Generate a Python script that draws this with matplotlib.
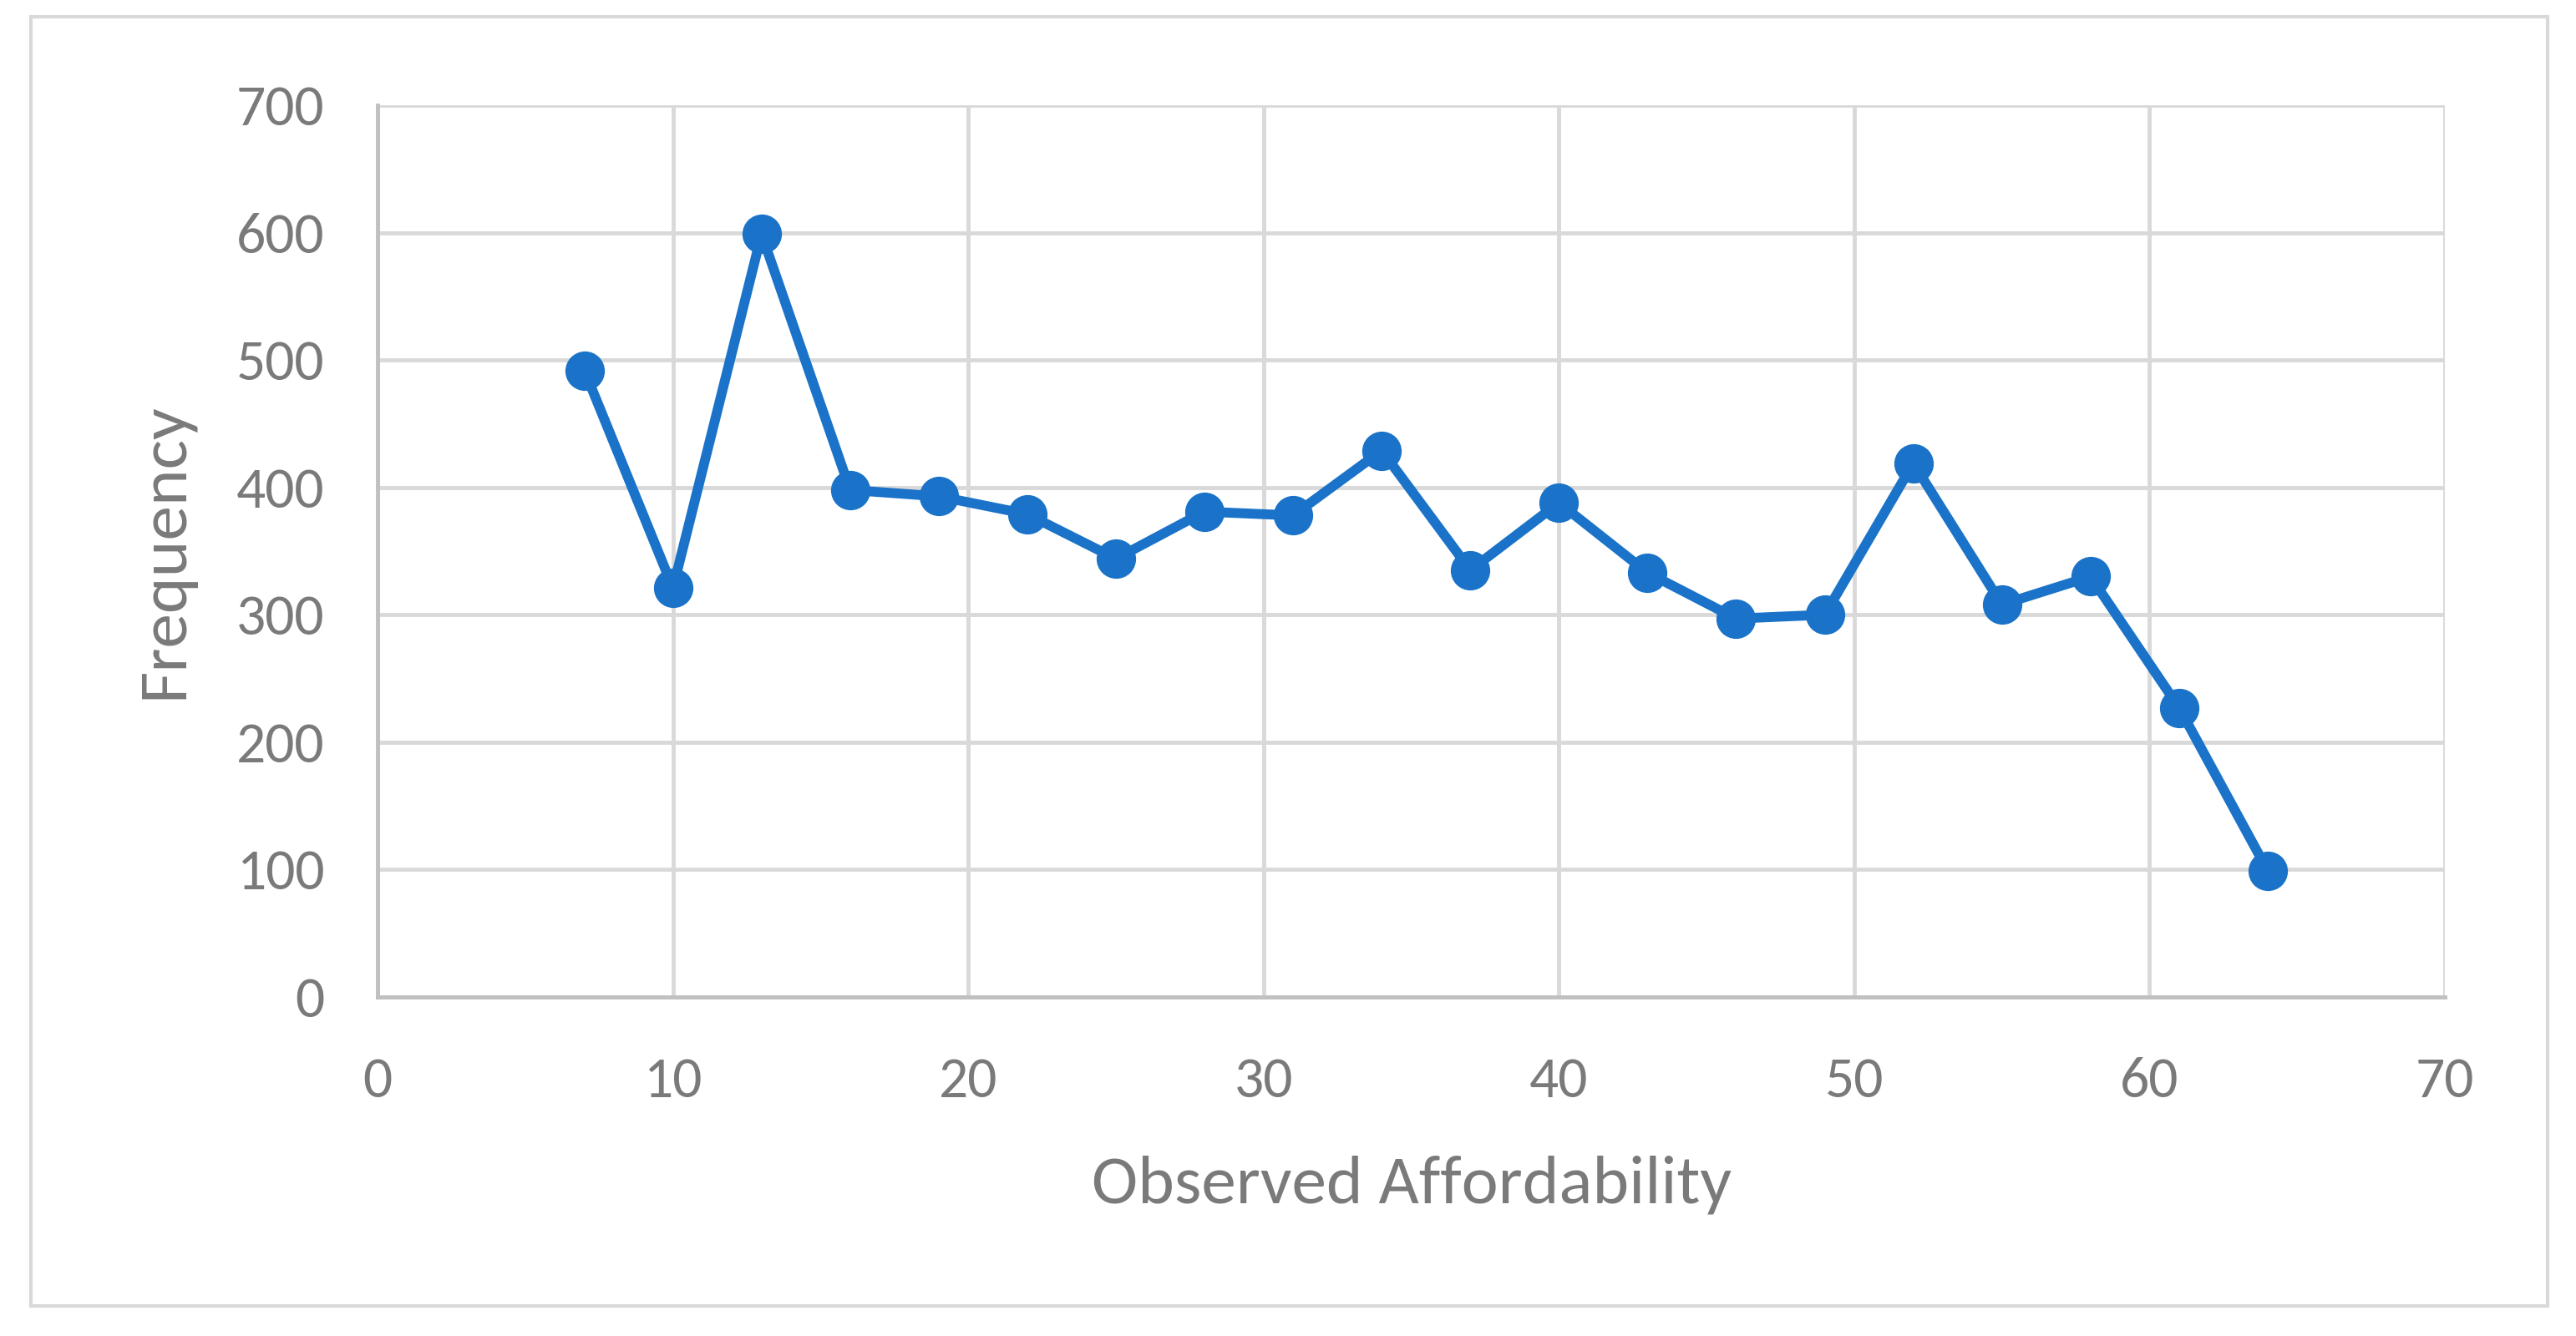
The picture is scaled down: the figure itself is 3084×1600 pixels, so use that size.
import matplotlib
matplotlib.use("Agg")
import matplotlib.pyplot as plt
from matplotlib.patches import Rectangle

plt.rcParams["font.family"] = ["Carlito", "Lato", "DejaVu Sans"]

affordability = [7, 10, 13, 16, 19, 22, 25, 28, 31, 34, 37, 40, 43, 46, 49, 52, 55, 58, 61, 64]
frequency = [492, 321, 599, 398, 393, 379, 344, 381, 378, 429, 335, 388, 333, 297, 300, 419, 308, 330, 227, 99]

x_ticks = [0, 10, 20, 30, 40, 50, 60, 70]
y_ticks = [0, 100, 200, 300, 400, 500, 600, 700]

text_grey = "#7a7a7a"
line_blue = "#1a73c8"

fig = plt.figure(figsize=(30.84, 16), dpi=100)
ax = fig.add_axes([0.1466, 0.254, 0.8025, 0.667])

ax.plot(affordability, frequency, color=line_blue, linewidth=8.5,
        marker="o", markersize=33, zorder=3)

ax.set_xlim(0, 70)
ax.set_ylim(0, 700)
ax.set_xticks(x_ticks)
ax.set_yticks(y_ticks)
ax.grid(True, color="#d9d9d9", linewidth=3.5)
ax.set_axisbelow(True)
for side in ["top", "right"]:
    ax.spines[side].set_visible(False)
for side in ["left", "bottom"]:
    ax.spines[side].set_color("#c0c0c0")
    ax.spines[side].set_linewidth(3.5)
ax.tick_params(length=0, labelsize=50, labelcolor=text_grey)
ax.tick_params(axis="y", pad=46)
ax.tick_params(axis="x", pad=52)

ax.set_xlabel("Observed Affordability", fontsize=60, color=text_grey, labelpad=42)
ax.set_ylabel("Frequency", fontsize=60, color=text_grey, labelpad=36)

# chart border like the Excel frame
fig.patches.append(Rectangle((0.012, 0.0225), 0.977, 0.965, transform=fig.transFigure,
                             fill=False, edgecolor="#d9d9d9", linewidth=3))

fig.savefig("out.png", dpi=100)
